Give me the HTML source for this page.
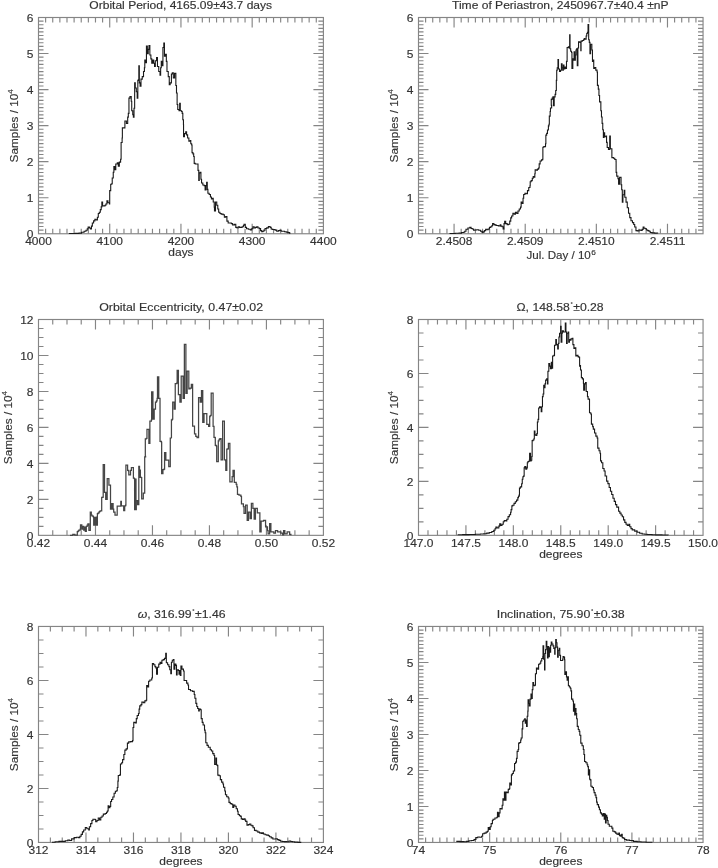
<!DOCTYPE html>
<html><head><meta charset="utf-8"><style>
html,body{margin:0;padding:0;background:#fff;}
svg{display:block;will-change:transform;}
text{font-family:"Liberation Sans",sans-serif;font-size:10.5px;fill:#333;stroke:#333;stroke-width:0.15px;}
</style></head><body>
<svg width="718" height="868" viewBox="0 0 718 868">
<rect width="718" height="868" fill="#fff"/>
<g><rect x="38.5" y="17.5" width="284.9" height="216.25" fill="none" stroke="#858585" stroke-width="1.15"/><path d="M45.62 233.75v-5M45.62 17.5v5M52.74 233.75v-5M52.74 17.5v5M59.87 233.75v-5M59.87 17.5v5M66.99 233.75v-5M66.99 17.5v5M74.11 233.75v-5M74.11 17.5v5M81.23 233.75v-5M81.23 17.5v5M88.36 233.75v-5M88.36 17.5v5M95.48 233.75v-5M95.48 17.5v5M102.6 233.75v-5M102.6 17.5v5M109.72 233.75v-10M109.72 17.5v10M116.85 233.75v-5M116.85 17.5v5M123.97 233.75v-5M123.97 17.5v5M131.09 233.75v-5M131.09 17.5v5M138.21 233.75v-5M138.21 17.5v5M145.34 233.75v-5M145.34 17.5v5M152.46 233.75v-5M152.46 17.5v5M159.58 233.75v-5M159.58 17.5v5M166.7 233.75v-5M166.7 17.5v5M173.83 233.75v-5M173.83 17.5v5M180.95 233.75v-10M180.95 17.5v10M188.07 233.75v-5M188.07 17.5v5M195.19 233.75v-5M195.19 17.5v5M202.32 233.75v-5M202.32 17.5v5M209.44 233.75v-5M209.44 17.5v5M216.56 233.75v-5M216.56 17.5v5M223.69 233.75v-5M223.69 17.5v5M230.81 233.75v-5M230.81 17.5v5M237.93 233.75v-5M237.93 17.5v5M245.05 233.75v-5M245.05 17.5v5M252.17 233.75v-10M252.17 17.5v10M259.3 233.75v-5M259.3 17.5v5M266.42 233.75v-5M266.42 17.5v5M273.54 233.75v-5M273.54 17.5v5M280.66 233.75v-5M280.66 17.5v5M287.79 233.75v-5M287.79 17.5v5M294.91 233.75v-5M294.91 17.5v5M302.03 233.75v-5M302.03 17.5v5M309.15 233.75v-5M309.15 17.5v5M316.28 233.75v-5M316.28 17.5v5M38.5 230.15h5M323.4 230.15h-5M38.5 226.54h5M323.4 226.54h-5M38.5 222.94h5M323.4 222.94h-5M38.5 219.33h5M323.4 219.33h-5M38.5 215.73h5M323.4 215.73h-5M38.5 212.12h5M323.4 212.12h-5M38.5 208.52h5M323.4 208.52h-5M38.5 204.92h5M323.4 204.92h-5M38.5 201.31h5M323.4 201.31h-5M38.5 197.71h10M323.4 197.71h-10M38.5 194.1h5M323.4 194.1h-5M38.5 190.5h5M323.4 190.5h-5M38.5 186.9h5M323.4 186.9h-5M38.5 183.29h5M323.4 183.29h-5M38.5 179.69h5M323.4 179.69h-5M38.5 176.08h5M323.4 176.08h-5M38.5 172.48h5M323.4 172.48h-5M38.5 168.88h5M323.4 168.88h-5M38.5 165.27h5M323.4 165.27h-5M38.5 161.67h10M323.4 161.67h-10M38.5 158.06h5M323.4 158.06h-5M38.5 154.46h5M323.4 154.46h-5M38.5 150.85h5M323.4 150.85h-5M38.5 147.25h5M323.4 147.25h-5M38.5 143.65h5M323.4 143.65h-5M38.5 140.04h5M323.4 140.04h-5M38.5 136.44h5M323.4 136.44h-5M38.5 132.83h5M323.4 132.83h-5M38.5 129.23h5M323.4 129.23h-5M38.5 125.62h10M323.4 125.62h-10M38.5 122.02h5M323.4 122.02h-5M38.5 118.42h5M323.4 118.42h-5M38.5 114.81h5M323.4 114.81h-5M38.5 111.21h5M323.4 111.21h-5M38.5 107.6h5M323.4 107.6h-5M38.5 104h5M323.4 104h-5M38.5 100.4h5M323.4 100.4h-5M38.5 96.79h5M323.4 96.79h-5M38.5 93.19h5M323.4 93.19h-5M38.5 89.58h10M323.4 89.58h-10M38.5 85.98h5M323.4 85.98h-5M38.5 82.38h5M323.4 82.38h-5M38.5 78.77h5M323.4 78.77h-5M38.5 75.17h5M323.4 75.17h-5M38.5 71.56h5M323.4 71.56h-5M38.5 67.96h5M323.4 67.96h-5M38.5 64.35h5M323.4 64.35h-5M38.5 60.75h5M323.4 60.75h-5M38.5 57.15h5M323.4 57.15h-5M38.5 53.54h10M323.4 53.54h-10M38.5 49.94h5M323.4 49.94h-5M38.5 46.33h5M323.4 46.33h-5M38.5 42.73h5M323.4 42.73h-5M38.5 39.12h5M323.4 39.12h-5M38.5 35.52h5M323.4 35.52h-5M38.5 31.92h5M323.4 31.92h-5M38.5 28.31h5M323.4 28.31h-5M38.5 24.71h5M323.4 24.71h-5M38.5 21.1h5M323.4 21.1h-5" fill="none" stroke="#858585" stroke-width="1.15"/><text transform="translate(38.5,245.25) scale(1.1400,1)" text-anchor="middle">4000</text><text transform="translate(109.72,245.25) scale(1.1400,1)" text-anchor="middle">4100</text><text transform="translate(180.95,245.25) scale(1.1400,1)" text-anchor="middle">4200</text><text transform="translate(252.17,245.25) scale(1.1400,1)" text-anchor="middle">4300</text><text transform="translate(323.4,245.25) scale(1.1400,1)" text-anchor="middle">4400</text><text transform="translate(33.5,237.95) scale(1.1400,1)" text-anchor="end">0</text><text transform="translate(33.5,201.91) scale(1.1400,1)" text-anchor="end">1</text><text transform="translate(33.5,165.87) scale(1.1400,1)" text-anchor="end">2</text><text transform="translate(33.5,129.82) scale(1.1400,1)" text-anchor="end">3</text><text transform="translate(33.5,93.78) scale(1.1400,1)" text-anchor="end">4</text><text transform="translate(33.5,57.74) scale(1.1400,1)" text-anchor="end">5</text><text transform="translate(33.5,21.7) scale(1.1400,1)" text-anchor="end">6</text><text transform="translate(180.7,8.7) scale(1.1491,1)" text-anchor="middle">Orbital Period, 4165.09±43.7 days</text><text transform="translate(180.95,256.15) scale(1.1400,1)" text-anchor="middle">days</text><text transform="translate(18.3,125.83) rotate(-90) scale(1.1229,1)" text-anchor="middle">Samples / 10<tspan font-size="7" dy="-5">4</tspan></text><path d="M68.87,233.51H75.21V233.38H79.02V233.12H81.55V232.24H84.09V231.22H85.99V230.21H87.26V228.69H88.14V227.17H89.41V228.05H90.43V228.94H91.44V226.15H92.33V222.98H93.6V220.83H94.86V219.18H96.13V220.07H97.4V217.28H98.29V213.47H99.3V212.21H100.31V209.67H101.2V206.88H101.84V202.06H102.6V205.87H103.74V205.87H105.01V205.23H105.89V203.97H106.91V200.8H107.92V202.7H109.44V203.97H109.7V190.66H110.71V184.32H111.72V183.68H112.23V177.98H113.25V172.27H113.88V166.57H114.77V169.74H115.78V164.03H117.3V162.76H118.32V166.31H119.33V162.13H120.6V159.22H121.11V142.48H122.12V138.04H122.37V127.9H124.89V120.96H126.41V123.49H127.68V117.15H128.31V113.35H128.95V98.14H129.96V96.61H131.23V101.31H131.73V110.81H132.75V114.62H133.38V117.15H134.02V108.28H134.65V82.92H135.28V87.99H136.3V91.8H137.19V98.14H137.82V80.39H138.45V79.75H138.83V65.81H139.34V82.92H140.1V86.09H140.99V79.12H142.26V76.58H143.52V71.51H144.41V67.71H144.79V60.1H145.68V62.64H146.44V46.16H147.33V53.76H148.22V49.33H148.98V45.52H149.86V55.03H150.88V58.84H151.76V63.27H152.65V60.1H153.67V63.27H154.55V66.44H155.31V60.74H156.58V57.57H157.47V66.44H158.74V71.51H160.01V75.32H160.64V67.71H161.27V61.37H162.16V65.81H162.92V47.43H163.81V42.99H164.44V56.3H165.46V54.4H166.34V61.37H166.98V71.51H168.25V76.58H169.26V84.82H170.15V82.92H171.41V74.05H172.3V72.78H173.32V77.85H174.58V73.41H175.22V73.41H175.85V85.46H176.49V93.06H177.12V104.47H177.75V109.55H179.02V110.81H179.66V103.21H180.29V110.81H181.56V111.45H182.19V113.35H182.82V119.69H183.46V124.76H183.55V136.78H184.44V133.61H185.7V131.7H186.59V134.87H187.61V138.04H188.87V141.21H190.14V140.58H190.78V143.75H191.66V145.02H192.04V152.62H192.93V153.89H193.69V156.43H194.2V163.4H195.21V164.03H197.11V164.03H198V170.37H198.76V180.51H199.27V172.91H200.28V172.27H200.92V179.25H201.55V183.05H202.82V184.95H204.09V185.58H205.1V190.02H205.99V185.58H206.62V182.41H207.26V189.39H207.89V193.19H209.16V194.46H210.43V196.99H211.44V198.9H212.33V198.26H213.22V202.06H214.23V207.14H214.48V210.94H215.5V202.06H216.76V205.23H217.78V209.04H218.67V212.21H219.93V213.47H221.2V214.11H223.1V214.74H224.37V217.28H225.64V216.64H226.91V221.08H228.17V222.98H230.08V222.98H231.34V223.62H232.61V224.88H234.51V224.25H235.78V227.42H237.05V228.05H238.32V226.79H239.58V227.42H240.85V227.42H242.12V226.79H243.39V225.52H244.02V224.25H245.29V227.42H246.56V228.69H248.46V229.32H250.36V229.96H251.63V228.69H252.9V226.79H254.16V228.05H255.43V227.42H256.7V226.79H257.97V228.05H259.47V228.44H260.58V230.67H261.7V231.78H262.81V231.23H263.93V230.11H265.04V228.44H266.71V227.88H268.38V226.55H270.06V227.33H271.17V229H272.28V229.55H273.96V229.55H275.07V230.11H276.74V231.23H278.41V230.67H279.53V230.33H281.2V231.23H282.87V231.23H284.54V231.78H286.21V232.12H287.88V232.67H289.55V233.23H290.11V233.45" fill="none" stroke="#1a1a1a" stroke-width="1.1" stroke-linejoin="miter"/></g>
<g><rect x="418.5" y="17.5" width="284.55" height="216.25" fill="none" stroke="#858585" stroke-width="1.15"/><path d="M425.61 233.75v-5M425.61 17.5v5M432.73 233.75v-5M432.73 17.5v5M439.84 233.75v-5M439.84 17.5v5M446.95 233.75v-5M446.95 17.5v5M454.07 233.75v-10M454.07 17.5v10M461.18 233.75v-5M461.18 17.5v5M468.3 233.75v-5M468.3 17.5v5M475.41 233.75v-5M475.41 17.5v5M482.52 233.75v-5M482.52 17.5v5M489.64 233.75v-5M489.64 17.5v5M496.75 233.75v-5M496.75 17.5v5M503.87 233.75v-5M503.87 17.5v5M510.98 233.75v-5M510.98 17.5v5M518.09 233.75v-5M518.09 17.5v5M525.21 233.75v-10M525.21 17.5v10M532.32 233.75v-5M532.32 17.5v5M539.43 233.75v-5M539.43 17.5v5M546.55 233.75v-5M546.55 17.5v5M553.66 233.75v-5M553.66 17.5v5M560.77 233.75v-5M560.77 17.5v5M567.89 233.75v-5M567.89 17.5v5M575 233.75v-5M575 17.5v5M582.12 233.75v-5M582.12 17.5v5M589.23 233.75v-5M589.23 17.5v5M596.34 233.75v-10M596.34 17.5v10M603.46 233.75v-5M603.46 17.5v5M610.57 233.75v-5M610.57 17.5v5M617.68 233.75v-5M617.68 17.5v5M624.8 233.75v-5M624.8 17.5v5M631.91 233.75v-5M631.91 17.5v5M639.03 233.75v-5M639.03 17.5v5M646.14 233.75v-5M646.14 17.5v5M653.25 233.75v-5M653.25 17.5v5M660.37 233.75v-5M660.37 17.5v5M667.48 233.75v-10M667.48 17.5v10M674.6 233.75v-5M674.6 17.5v5M681.71 233.75v-5M681.71 17.5v5M688.82 233.75v-5M688.82 17.5v5M695.94 233.75v-5M695.94 17.5v5M418.5 230.15h5M703.05 230.15h-5M418.5 226.54h5M703.05 226.54h-5M418.5 222.94h5M703.05 222.94h-5M418.5 219.33h5M703.05 219.33h-5M418.5 215.73h5M703.05 215.73h-5M418.5 212.12h5M703.05 212.12h-5M418.5 208.52h5M703.05 208.52h-5M418.5 204.92h5M703.05 204.92h-5M418.5 201.31h5M703.05 201.31h-5M418.5 197.71h10M703.05 197.71h-10M418.5 194.1h5M703.05 194.1h-5M418.5 190.5h5M703.05 190.5h-5M418.5 186.9h5M703.05 186.9h-5M418.5 183.29h5M703.05 183.29h-5M418.5 179.69h5M703.05 179.69h-5M418.5 176.08h5M703.05 176.08h-5M418.5 172.48h5M703.05 172.48h-5M418.5 168.88h5M703.05 168.88h-5M418.5 165.27h5M703.05 165.27h-5M418.5 161.67h10M703.05 161.67h-10M418.5 158.06h5M703.05 158.06h-5M418.5 154.46h5M703.05 154.46h-5M418.5 150.85h5M703.05 150.85h-5M418.5 147.25h5M703.05 147.25h-5M418.5 143.65h5M703.05 143.65h-5M418.5 140.04h5M703.05 140.04h-5M418.5 136.44h5M703.05 136.44h-5M418.5 132.83h5M703.05 132.83h-5M418.5 129.23h5M703.05 129.23h-5M418.5 125.62h10M703.05 125.62h-10M418.5 122.02h5M703.05 122.02h-5M418.5 118.42h5M703.05 118.42h-5M418.5 114.81h5M703.05 114.81h-5M418.5 111.21h5M703.05 111.21h-5M418.5 107.6h5M703.05 107.6h-5M418.5 104h5M703.05 104h-5M418.5 100.4h5M703.05 100.4h-5M418.5 96.79h5M703.05 96.79h-5M418.5 93.19h5M703.05 93.19h-5M418.5 89.58h10M703.05 89.58h-10M418.5 85.98h5M703.05 85.98h-5M418.5 82.38h5M703.05 82.38h-5M418.5 78.77h5M703.05 78.77h-5M418.5 75.17h5M703.05 75.17h-5M418.5 71.56h5M703.05 71.56h-5M418.5 67.96h5M703.05 67.96h-5M418.5 64.35h5M703.05 64.35h-5M418.5 60.75h5M703.05 60.75h-5M418.5 57.15h5M703.05 57.15h-5M418.5 53.54h10M703.05 53.54h-10M418.5 49.94h5M703.05 49.94h-5M418.5 46.33h5M703.05 46.33h-5M418.5 42.73h5M703.05 42.73h-5M418.5 39.12h5M703.05 39.12h-5M418.5 35.52h5M703.05 35.52h-5M418.5 31.92h5M703.05 31.92h-5M418.5 28.31h5M703.05 28.31h-5M418.5 24.71h5M703.05 24.71h-5M418.5 21.1h5M703.05 21.1h-5" fill="none" stroke="#858585" stroke-width="1.15"/><text transform="translate(454.07,245.25) scale(1.1400,1)" text-anchor="middle">2.4508</text><text transform="translate(525.21,245.25) scale(1.1400,1)" text-anchor="middle">2.4509</text><text transform="translate(596.34,245.25) scale(1.1400,1)" text-anchor="middle">2.4510</text><text transform="translate(667.48,245.25) scale(1.1400,1)" text-anchor="middle">2.4511</text><text transform="translate(413.5,237.95) scale(1.1400,1)" text-anchor="end">0</text><text transform="translate(413.5,201.91) scale(1.1400,1)" text-anchor="end">1</text><text transform="translate(413.5,165.87) scale(1.1400,1)" text-anchor="end">2</text><text transform="translate(413.5,129.82) scale(1.1400,1)" text-anchor="end">3</text><text transform="translate(413.5,93.78) scale(1.1400,1)" text-anchor="end">4</text><text transform="translate(413.5,57.74) scale(1.1400,1)" text-anchor="end">5</text><text transform="translate(413.5,21.7) scale(1.1400,1)" text-anchor="end">6</text><text transform="translate(560.27,8.7) scale(1.1503,1)" text-anchor="middle">Time of Periastron, 2450967.7±40.4 ±nP</text><text transform="translate(561.07,258.85) scale(1.1058,1)" text-anchor="middle">Jul. Day / 10<tspan font-size="7.5" dx="0.3" dy="-4.2">6</tspan></text><text transform="translate(398.3,125.83) rotate(-90) scale(1.1229,1)" text-anchor="middle">Samples / 10<tspan font-size="7" dy="-5">4</tspan></text><path d="M449.51,233.51H455.21V233.25H459.02V233.12H461.55V232.49H463.45V232.24H464.72V231.22H465.99V229.32H467.89V228.05H469.79V227.42H471.06V228.43H472.33V228.94H473.6V230.21H474.86V229.96H476.76V229.7H478.67V230.21H480.57V231.22H482.09V232.49H483.1V231.86H484.37V230.59H485.64V229.32H486.91V229.7H488.17V228.94H489.44V227.42H490.71V226.79H491.98V225.52H492.61V223.62H493.88V224.63H495.15V225.14H496.41V225.52H498.32V225.9H500.22V224.88H500.85V226.15H502.12V226.79H503.13V228.94H504.02V223.62H504.66V221.33H505.67V223.62H507.19V224.63H508.46V224.25H509.73V221.08H510.74V217.91H511.63V216.01H512.9V213.22H514.16V214.11H515.43V212.21H516.7V213.47H517.97V210.94H519.23V209.04H520.5V207.14H521.14V202.06H522.15V203.33H523.04V198.26H523.67V194.46H524.94V193.19H526.21V193.82H527.47V190.66H528.74V188.12H528.82V187.53H529.97V185.8H530.2V181.77H531.12V180.62H532.28V178.31H533.2V176.59H534V177.16H534.81V173.71H535.15V169.68H536.31V170.25H537.46V169.1H538.61V167.95H539.19V163.92H540.11V161.04H541.49V159.89H542.64V159.31H542.87V147.22H543.79V146.64H545.17V146.64H545.52V143.76H545.86V135.13H546.67V133.4H547.48V129.94H548.4V125.91H548.97V124.19H549.32V116.12H550.13V111.52H550.47V108.06H551.62V105.18H551.27V99.4H552.16V98.14H552.92V96.87H553.43V105.74H554.19V96.87H555.08V94.33H555.71V90.53H556.34V80.39H556.72V70.25H557.23V67.71H557.99V59.47H558.5V68.98H559.51V71.51H560.53V70.25H561.41V63.91H562.05V67.71H562.68V70.25H563.32V65.17H563.95V68.98H564.84V67.08H565.6V68.34H566.49V61.37H567.12V47.43H568.39V46.79H569.02V48.06H569.66V34.75H570.04V48.69H570.67V51.23H571.56V52.5H571.94V68.34H572.82V58.84H573.46V60.1H574.09V51.86H574.73V60.1H575.36V55.03H575.99V49.96H576.63V48.69H577.26V65.81H577.9V48.06H578.53V41.72H579.8V42.35H580.81V50.6H581.06V41.09H582.33V40.45H583.6V39.82H584.23V38.55H584.87V39.19H586.14V36.02H586.77V33.48H587.4V32.21H588.04V24.61H588.67V39.82H589.31V42.35H589.94V53.76H590.57V44.26H591.84V49.96H592.47V61.37H593.11V60.1H593.74V68.34H594.51V67.61H595.78V70.14H597.04V72.04H597.42V85.35H598.31V89.16H598.95V95.5H599.58V101.84H600.21V101.84H600.85V110.71H601.48V117.05H602.11V123.39H602.75V129.73H603.38V137.33H604.02V132.9H604.65V136.7H605.92V136.06H606.55V142.4H607.19V147.47H608.45V149.38H609.72V136.06H610.35V148.74H611.62V148.74H611.88V157.62H613.52V158.25H614.79V159.52H616.06V161.42H616.12V172.4H616.73V176.12H617.97V178.59H618.59V184.17H619.59V177.35H620.45V177.35H621.07V184.79H621.69V189.75H622.31V202.15H622.93V194.71H624.17V190.37H624.79V197.19H626.03V202.15H627.27V207.73H628.51V213.3H629.75V217.64H630.99V220.74H632.48V222.6H633.72V224.46H634.71V226.94H635.95V230.66H637.19V230.91H639.05V230.04H640.91V230.41H642.15V229.42H643.14V226.94H644.01V228.18H645.25V228.8H646.49V230.04H647.73V230.66H648.96V231.28H650.2V232.52H652.06V232.89H654.54V233.14H657.64V233.39" fill="none" stroke="#1a1a1a" stroke-width="1.1" stroke-linejoin="miter"/></g>
<g><rect x="38.5" y="319.5" width="284.9" height="215.85" fill="none" stroke="#858585" stroke-width="1.15"/><path d="M52.74 535.35v-5M52.74 319.5v5M66.99 535.35v-5M66.99 319.5v5M81.23 535.35v-5M81.23 319.5v5M95.48 535.35v-10M95.48 319.5v10M109.72 535.35v-5M109.72 319.5v5M123.97 535.35v-5M123.97 319.5v5M138.21 535.35v-5M138.21 319.5v5M152.46 535.35v-10M152.46 319.5v10M166.7 535.35v-5M166.7 319.5v5M180.95 535.35v-5M180.95 319.5v5M195.19 535.35v-5M195.19 319.5v5M209.44 535.35v-10M209.44 319.5v10M223.69 535.35v-5M223.69 319.5v5M237.93 535.35v-5M237.93 319.5v5M252.17 535.35v-5M252.17 319.5v5M266.42 535.35v-10M266.42 319.5v10M280.66 535.35v-5M280.66 319.5v5M294.91 535.35v-5M294.91 319.5v5M309.15 535.35v-5M309.15 319.5v5M38.5 526.36h5M323.4 526.36h-5M38.5 517.36h5M323.4 517.36h-5M38.5 508.37h5M323.4 508.37h-5M38.5 499.38h10M323.4 499.38h-10M38.5 490.38h5M323.4 490.38h-5M38.5 481.39h5M323.4 481.39h-5M38.5 472.39h5M323.4 472.39h-5M38.5 463.4h10M323.4 463.4h-10M38.5 454.41h5M323.4 454.41h-5M38.5 445.41h5M323.4 445.41h-5M38.5 436.42h5M323.4 436.42h-5M38.5 427.43h10M323.4 427.43h-10M38.5 418.43h5M323.4 418.43h-5M38.5 409.44h5M323.4 409.44h-5M38.5 400.44h5M323.4 400.44h-5M38.5 391.45h10M323.4 391.45h-10M38.5 382.46h5M323.4 382.46h-5M38.5 373.46h5M323.4 373.46h-5M38.5 364.47h5M323.4 364.47h-5M38.5 355.48h10M323.4 355.48h-10M38.5 346.48h5M323.4 346.48h-5M38.5 337.49h5M323.4 337.49h-5M38.5 328.49h5M323.4 328.49h-5" fill="none" stroke="#858585" stroke-width="1.15"/><text transform="translate(38.5,546.85) scale(1.1400,1)" text-anchor="middle">0.42</text><text transform="translate(95.48,546.85) scale(1.1400,1)" text-anchor="middle">0.44</text><text transform="translate(152.46,546.85) scale(1.1400,1)" text-anchor="middle">0.46</text><text transform="translate(209.44,546.85) scale(1.1400,1)" text-anchor="middle">0.48</text><text transform="translate(266.42,546.85) scale(1.1400,1)" text-anchor="middle">0.50</text><text transform="translate(323.4,546.85) scale(1.1400,1)" text-anchor="middle">0.52</text><text transform="translate(33.5,539.55) scale(1.1400,1)" text-anchor="end">0</text><text transform="translate(33.5,503.57) scale(1.1400,1)" text-anchor="end">2</text><text transform="translate(33.5,467.6) scale(1.1400,1)" text-anchor="end">4</text><text transform="translate(33.5,431.62) scale(1.1400,1)" text-anchor="end">6</text><text transform="translate(33.5,395.65) scale(1.1400,1)" text-anchor="end">8</text><text transform="translate(33.5,359.68) scale(1.1400,1)" text-anchor="end">10</text><text transform="translate(33.5,323.7) scale(1.1400,1)" text-anchor="end">12</text><text transform="translate(181.15,310.7) scale(1.1776,1)" text-anchor="middle">Orbital Eccentricity, 0.47±0.02</text><text transform="translate(12.4,427.62) rotate(-90) scale(1.1229,1)" text-anchor="middle">Samples / 10<tspan font-size="7" dy="-5">4</tspan></text><path d="M70,535.3H72.7V535.3H72.8V534.3H74.7V534.3H74.8V535.1H76.9V535.1H77.3V531.6H78.2V530.9H78.9V530H80.2V529H80.5V524.8H81.4V524.8H81.8V529H82.4V526.4H83.4V526.4H83.7V530H84.3V527.1H85V527.1H85.3V531.3H86V531.3H86.3V526.4H87.2V525.1H87.9V523.8H88.5V523.8H88.9V530.3H89.8V530.3H90.3V512.2H91.1V512.2H91.3V515.1H92.1V516.1H93.4V517.1H93.7V525.1H94.3V525.1H94.7V517.4H95.5V517.4H95.6V525.1H96.2V525.1H96.3V517.1H96.9V517.1H97V525.1H97.3V525.1H97.4V513.5H98.2V512.9H99.2V511.6H100.1V510.9H101.4V510.9H101.7V497.4H102.9V497.1H103.2V464.5H104.3V464.5H104.5V492.3H105.6V492.3H105.7V499.3H106.2V499.3H106.3V492.3H106.7V492.3H106.8V499.3H107.1V499.3H107.2V478.7H108.9V478.7H108.9V485.1H110.5V485.1H110.5V509H111.2V509H111.3V503.5H111.9V503.5H112V509H112.5V509H112.6V503.5H113V503.5H113.1V509H113.7V512.2H115V515.1H117.2V513.5H117.2V506.1H120.5V506.1H120.8V501.3H121.4V501.3H121.4V505.8H123.4V505.8H123.7V510.6H124.3V510.6H124.7V505.8H125.6V505.1H125.9V465.1H127.2V465.1H127.6V470.3H128.5V470.9H128.8V474.8H130.1V474.8H130.5V470.3H131.4V467.7H133V467.7H133.4V478H134.3V478.7H134.6V509.7H135.3V509.7H135.4V479H135.9V479H136V509.7H136.3V509.7H136.3V500.6H137.6V500.6H137.6V504.5H138.6V504.5H138.8V466.4H139.4V466.4H139.5V477.4H139.9V477.4H140V470H140.3V470H140.4V477.4H141.4V477.7H141.7V498.9H143V498.9H143.3V493.2H144.2V493.2H144.7V456.8H145.6V456.4H145.32V438.88H146.34V438.25H146.97V429.38H148.24V429.38H148.87V443.32H149.51V443.32H149.89V421.14H151.41V419.87H151.66V391.98H152.68V391.98H152.93V419.23H153.95V419.23H154.2V409.09H155.21V409.09H155.47V402.12H156.48V400.85H157.11V398.32H157.49V376.76H158.38V376.76H158.76V398.32H159.65V398.32H160.03V441.42H160.92V441.42H161.41V442.48H161.66V473.54H162.68V473.54H162.93V469.74H163.95V469.1H164.58V452.62H165.47V452.62H165.85V460.23H168.38V460.23H168.76V466.57H170.03V466.57H170.28V438.04H171.55V438.04H171.44V419.87H172.33V419.23H172.71V402.12H173.6V402.12H174.23V409.09H174.86V409.09H175.24V383.74H176.76V383.1H177.15V370.43H178.03V370.43H178.41V394.51H179.3V394.51H179.93V402.12H180.82V402.12H181.2V376.13H182.47V376.13H183.1V398.32H183.74V398.32H184.37V344.44H185.64V344.44H185.89V393.25H186.65V393.25H187.16V371.06H188.43V371.06H188.81V388.81H190.08V388.17H191.34V384.37H192.23V384.37H192.61V426.21H193.88V426.21H194.51V433.81H195.78V436.35H197.05V437.62H198.32V437.62H198.57V397.68H199.58V397.68H200.22V402.12H201.11V402.12H201.49V390.71H202.37V390.71H202.75V422.4H203.64V422.4H204.02V413.53H205.92V413.53H206.8V424.4H208.2V424.4H208.6V426.4H209.4V426.4H209.7V416.7H210.2V415.5H211V415.1H211.2V393.2H212.9V393.2H213.1V426.4H213.9V426.4H214V437.3H215.1V437.7H215.3V445.3H216.3V446.1H216.7V461.5H217.9V461.5H218.3V440.9H219.1V439.3H219.9V438.5H220.7V438.5H221.1V459.8H222.3V459.8H222.6V421.1H224.2V421.1H224.4V459.8H225.2V459.8H225.6V460.6H225.8V470.3H226.6V470.3H226.8V449H228V448.5H228.4V443.3H229.6V443.3H229.87V481.78H231.14V481.78H232.15V476.71H233.04V470.37H233.92V470.37H234.31V482.41H236.21V484.32H236.84V486.85H237.47V494.46H239V495.09H240.85V496.36H241.48V503.97H243.38V506.5H244.02V513.47H245.03V513.47H245.54V505.23H246.81V505.23H247.19V520.45H248.07V520.45H248.45V512.21H249.72V512.21H250.1V518.55H250.99V518.55H251.37V503.33H252.26V503.33H252.89V508.4H253.9V508.4H254.16V519.18H255.17V519.18H255.43V508.4H256.69V508.4H257.33V512.84H259.23V512.84H259.86V531.86H260.75V531.86H261.13V521.08H263.03V521.08H263.67V520.45H264.93V520.45H265.57V526.79H267.47V530.59H268.1V533.76H269.12V533.76H269.62V523.62H270.64V523.62H270.89V531.86H272.54V531.86H273.81V533.12H275.08V533.12H275.46V530.59H276.98V530.59H277.61V531.86H279.51V531.86H280.78V533.12H282.68V534.77H283.57V530.59H284.58V530.59H284.84V533.76H286.49V533.76H287.12V531.86H289.02V531.86H289.66V534.39H290.92V535.28" fill="none" stroke="#454545" stroke-width="1.25" stroke-linejoin="miter"/></g>
<g><rect x="418.5" y="319.5" width="284.55" height="215.85" fill="none" stroke="#858585" stroke-width="1.15"/><path d="M427.99 535.35v-5M427.99 319.5v5M437.47 535.35v-5M437.47 319.5v5M446.95 535.35v-5M446.95 319.5v5M456.44 535.35v-5M456.44 319.5v5M465.93 535.35v-10M465.93 319.5v10M475.41 535.35v-5M475.41 319.5v5M484.89 535.35v-5M484.89 319.5v5M494.38 535.35v-5M494.38 319.5v5M503.87 535.35v-5M503.87 319.5v5M513.35 535.35v-10M513.35 319.5v10M522.84 535.35v-5M522.84 319.5v5M532.32 535.35v-5M532.32 319.5v5M541.8 535.35v-5M541.8 319.5v5M551.29 535.35v-5M551.29 319.5v5M560.77 535.35v-10M560.77 319.5v10M570.26 535.35v-5M570.26 319.5v5M579.75 535.35v-5M579.75 319.5v5M589.23 535.35v-5M589.23 319.5v5M598.71 535.35v-5M598.71 319.5v5M608.2 535.35v-10M608.2 319.5v10M617.68 535.35v-5M617.68 319.5v5M627.17 535.35v-5M627.17 319.5v5M636.65 535.35v-5M636.65 319.5v5M646.14 535.35v-5M646.14 319.5v5M655.62 535.35v-10M655.62 319.5v10M665.11 535.35v-5M665.11 319.5v5M674.6 535.35v-5M674.6 319.5v5M684.08 535.35v-5M684.08 319.5v5M693.56 535.35v-5M693.56 319.5v5M418.5 521.86h5M703.05 521.86h-5M418.5 508.37h5M703.05 508.37h-5M418.5 494.88h5M703.05 494.88h-5M418.5 481.39h10M703.05 481.39h-10M418.5 467.9h5M703.05 467.9h-5M418.5 454.41h5M703.05 454.41h-5M418.5 440.92h5M703.05 440.92h-5M418.5 427.43h10M703.05 427.43h-10M418.5 413.93h5M703.05 413.93h-5M418.5 400.44h5M703.05 400.44h-5M418.5 386.95h5M703.05 386.95h-5M418.5 373.46h10M703.05 373.46h-10M418.5 359.97h5M703.05 359.97h-5M418.5 346.48h5M703.05 346.48h-5M418.5 332.99h5M703.05 332.99h-5" fill="none" stroke="#858585" stroke-width="1.15"/><text transform="translate(418.5,546.85) scale(1.1400,1)" text-anchor="middle">147.0</text><text transform="translate(465.93,546.85) scale(1.1400,1)" text-anchor="middle">147.5</text><text transform="translate(513.35,546.85) scale(1.1400,1)" text-anchor="middle">148.0</text><text transform="translate(560.77,546.85) scale(1.1400,1)" text-anchor="middle">148.5</text><text transform="translate(608.2,546.85) scale(1.1400,1)" text-anchor="middle">149.0</text><text transform="translate(655.62,546.85) scale(1.1400,1)" text-anchor="middle">149.5</text><text transform="translate(703.05,546.85) scale(1.1400,1)" text-anchor="middle">150.0</text><text transform="translate(413.5,539.55) scale(1.1400,1)" text-anchor="end">0</text><text transform="translate(413.5,485.59) scale(1.1400,1)" text-anchor="end">2</text><text transform="translate(413.5,431.62) scale(1.1400,1)" text-anchor="end">4</text><text transform="translate(413.5,377.66) scale(1.1400,1)" text-anchor="end">6</text><text transform="translate(413.5,323.7) scale(1.1400,1)" text-anchor="end">8</text><text transform="translate(560.07,310.7) scale(1.1639,1)" text-anchor="middle">Ω, 148.58<tspan font-size="5" dx="0.6" dy="-4.6">°</tspan><tspan dx="0.4" dy="4.6">±0.28</tspan></text><text transform="translate(560.77,557.75) scale(1.1400,1)" text-anchor="middle">degrees</text><text transform="translate(398.3,427.62) rotate(-90) scale(1.1229,1)" text-anchor="middle">Samples / 10<tspan font-size="7" dy="-5">4</tspan></text><path d="M457.61,534.77H462.68V534.65H469.02V534.52H475.35V534.27H480.43V534.01H483.6V533.76H486.76V533.12H489.3V532.49H491.84V531.48H493.74V530.21H495.01V528.69H495.89V527.17H497.16V528.05H498.81V526.15H499.7V523.87H500.71V525.52H501.98V524.25H503.25V521.72H504.26V520.45H505.78V520.83H506.8V519.18H508.06V516.64H509.33V514.74H510.6V512.21H511.11V509.67H511.87V505.87H512.75V505.23H514.02V503.33H515.29V501.81H516.56V500.16H517.82V497.63H518.46V496.36H519.09V495.09H519.47V488.12H520.36V486.85H521.63V483.68H522.26V479.25H522.9V476.71H523.53V476.08H524.16V467.84H524.8V466.57H525.81V469.1H526.7V467.84H527.33V462.76H527.97V461.5H529.23V460.23H529.61V453.26H530.5V460.86H531.14V460.23H531.77V456.43H532.15V440.58H533.04V439.95H533.92V438.68H534.31V431.07H534.94V434.87H535.95V435.51H536.84V433.61H537.4V421.96H538.03V419.42H538.67V408.01H539.55V406.74H540.57V407.38H541.2V411.81H541.84V406.74H542.47V396.6H543.1V394.06H543.74V385.19H544.37V387.73H545.01V383.92H545.64V380.12H546.65V378.85H547.54V383.92H547.92V371.25H548.81V363.64H549.7V366.17H550.46V368.71H551.34V362.37H551.98V368.08H552.61V356.03H553.88V355.4H554.51V345.26H555.78V339.55H556.41V344.62H557.68V349.06H558.32V343.35H558.95V337.02H559.58V333.21H560.6V326.24H561.11V342.09H561.87V333.21H562.37V330.68H563.39V331.95H564.66V331.95H565.29V323.07H565.92V331.95H566.56V343.35H567.19V333.21H568.2V331.95H568.71V342.09H569.47V339.55H570.36V340.19H570.99V338.92H572.26V338.28H572.9V344.62H573.91V348.43H574.8V347.79H575.81V356.03H576.7V355.4H577.97V356.67H578.85V357.3H579.61V366.17H580.12V365.54H580.5V369.98H581.39V377.58H582.4V378.85H583.42V383.29H583.67V390.26H584.69V383.92H585.57V382.66H586.21V391.53H587.47V396.6H588.11V399.14H589.51V412.68H590.78V413.95H591.41V424.09H592.68V426.62H593.31V429.16H594.58V432.96H595.85V436.13H597.11V438.03H597.75V448.17H599.02V450.71H600.03V453.25H600.54V460.85H601.55V462.75H602.82V468.46H604.09V470.99H605.1V476.06H606.62V481.14H607.89V483.67H609.16V487.47H610.43V491.28H611.69V494.45H612.96V498.25H614.23V501.42H615.5V504.59H616.76V507.12H618.59V511.25H619.83V513.11H621.07V514.96H622.31V516.82H623.55V519.92H624.79V522.4H626.03V524.26H627.27V525.5H628.76V524.26H629.75V526.74H630.99V528.6H632.23V529.84H634.71V531.08H637.19V532.32H639.67V533.31H642.15V533.93H644.63V534.3H647.11V534.55H652.06V534.8H655.78V534.92H661.98V535.05H668.18V535.17" fill="none" stroke="#1a1a1a" stroke-width="1.1" stroke-linejoin="miter"/></g>
<g><rect x="38.5" y="626.45" width="284.9" height="216" fill="none" stroke="#858585" stroke-width="1.15"/><path d="M50.37 842.45v-5M50.37 626.45v5M62.24 842.45v-5M62.24 626.45v5M74.11 842.45v-5M74.11 626.45v5M85.98 842.45v-10M85.98 626.45v10M97.85 842.45v-5M97.85 626.45v5M109.72 842.45v-5M109.72 626.45v5M121.6 842.45v-5M121.6 626.45v5M133.47 842.45v-10M133.47 626.45v10M145.34 842.45v-5M145.34 626.45v5M157.21 842.45v-5M157.21 626.45v5M169.08 842.45v-5M169.08 626.45v5M180.95 842.45v-10M180.95 626.45v10M192.82 842.45v-5M192.82 626.45v5M204.69 842.45v-5M204.69 626.45v5M216.56 842.45v-5M216.56 626.45v5M228.43 842.45v-10M228.43 626.45v10M240.3 842.45v-5M240.3 626.45v5M252.17 842.45v-5M252.17 626.45v5M264.05 842.45v-5M264.05 626.45v5M275.92 842.45v-10M275.92 626.45v10M287.79 842.45v-5M287.79 626.45v5M299.66 842.45v-5M299.66 626.45v5M311.53 842.45v-5M311.53 626.45v5M38.5 828.95h5M323.4 828.95h-5M38.5 815.45h5M323.4 815.45h-5M38.5 801.95h5M323.4 801.95h-5M38.5 788.45h10M323.4 788.45h-10M38.5 774.95h5M323.4 774.95h-5M38.5 761.45h5M323.4 761.45h-5M38.5 747.95h5M323.4 747.95h-5M38.5 734.45h10M323.4 734.45h-10M38.5 720.95h5M323.4 720.95h-5M38.5 707.45h5M323.4 707.45h-5M38.5 693.95h5M323.4 693.95h-5M38.5 680.45h10M323.4 680.45h-10M38.5 666.95h5M323.4 666.95h-5M38.5 653.45h5M323.4 653.45h-5M38.5 639.95h5M323.4 639.95h-5" fill="none" stroke="#858585" stroke-width="1.15"/><text transform="translate(38.5,853.95) scale(1.1400,1)" text-anchor="middle">312</text><text transform="translate(85.98,853.95) scale(1.1400,1)" text-anchor="middle">314</text><text transform="translate(133.47,853.95) scale(1.1400,1)" text-anchor="middle">316</text><text transform="translate(180.95,853.95) scale(1.1400,1)" text-anchor="middle">318</text><text transform="translate(228.43,853.95) scale(1.1400,1)" text-anchor="middle">320</text><text transform="translate(275.92,853.95) scale(1.1400,1)" text-anchor="middle">322</text><text transform="translate(323.4,853.95) scale(1.1400,1)" text-anchor="middle">324</text><text transform="translate(33.5,846.65) scale(1.1400,1)" text-anchor="end">0</text><text transform="translate(33.5,792.65) scale(1.1400,1)" text-anchor="end">2</text><text transform="translate(33.5,738.65) scale(1.1400,1)" text-anchor="end">4</text><text transform="translate(33.5,684.65) scale(1.1400,1)" text-anchor="end">6</text><text transform="translate(33.5,630.65) scale(1.1400,1)" text-anchor="end">8</text><text transform="translate(181.65,617.65) scale(1.1674,1)" text-anchor="middle"><tspan font-style="italic">ω</tspan>, 316.99<tspan font-size="5" dx="0.6" dy="-4.6">°</tspan><tspan dx="0.4" dy="4.6">±1.46</tspan></text><text transform="translate(180.95,864.85) scale(1.1400,1)" text-anchor="middle">degrees</text><text transform="translate(18.3,734.65) rotate(-90) scale(1.1229,1)" text-anchor="middle">Samples / 10<tspan font-size="7" dy="-5">4</tspan></text><path d="M51.97,842.28H55.14V841.77H58.95V841.39H62.75V841.39H65.28V840.76H67.82V840.12H69.72V840.51H71.62V838.86H74.16V837.59H76.69V837.21H78.6V837.59H79.86V836.32H81.13V834.42H82.4V831.88H83.67V829.98H85.31V827.45H86.84V828.72H88.74V829.98H89.37V826.81H90.64V823.64H91.91V820.47H92.92V819.21H95.08V819.46H95.71V821.74H96.98V820.47H98.25V817.94H99.51V819.84H100.78V817.31H102.05V816.04H103.32V814.14H105.22V813.5H106.49V812.23H107.37V810.97H108.13V805.9H109.02V807.8H109.91V806.53H110.67V801.46H111.56V799.56H112.82V797.02H114.09V793.22H115.36V791.32H116.63V790.68H117.26V787.51H117.9V781.17H118.28V775.47H119.8V774.84H120.43V764.06H121.7V762.79H122.59V759.62H123.85V754.55H124.87V750.11H126.14V748.85H127.4V743.14H128.67V741.87H130.57V741.62H132.47V740.61H133V727.47H133.76V722.4H135.28V723.04H136.3V718.6H137.19V715.43H138.45V713.53H139.09V709.09H139.72V705.92H140.99V704.66H141.88V702.12H143.52V702.75H144.79V700.85H146.06V700.22H146.69V685.64H147.71V686.91H148.6V681.2H149.86V679.93H151.76V678.03H152.4V663.45H153.67V664.72H154.93V666.62H155.82V667.89H156.58V674.23H157.47V667.26H158.74V664.09H160.01V662.19H160.89V663.45H161.91V660.28H163.17V659.65H164.44V658.38H165.71V653.31H166.34V662.82H167.61V664.72H168.88V666.62H169.77V669.79H170.78V673.6H171.41V662.19H172.3V660.28H173.32V659.65H173.95V669.16H174.84V664.09H175.85V665.35H176.49V674.86H177.12V669.79H178.39V670.43H179.02V674.23H179.91V670.43H180.29V675.5H180.92V665.99H181.94V669.16H183.46V671.06H184.09V680.57H185.36V680.57H186.63V683.1H187.9V685.01H188.53V689.44H190.43V690.71H192.59V691.34H194.23V694.51H194.87V698.32H195.88V703.39H196.77V706.56H197.66V708.46H198.67V710.99H199.31V709.09H200.57V709.73H201.21V718.6H202.22V722.4H203.11V724.94H204.51V730.14H205.14V732.68H205.78V742.82H207.04V745.35H208.31V747.26H210.21V749.79H211.48V751.06H212.75V753.6H214.02V755.5H214.65V764.37H215.92V758.03H216.55V765.01H217.57V765.64H217.82V775.15H219.09V775.78H220.35V779.58H221.62V782.12H222.89V784.02H223.52V787.19H224.79V790.99H225.43V794.8H226.69V796.7H228.22V797.97H228.98V802.4H230.24V803.67H231.76V804.31H232.78V807.47H233.67V804.94H234.93V806.21H236.2V808.74H237.47V811.28H238.1V814.45H239.37V815.72H240.64V816.35H241.27V818.88H242.54V819.52H243.81V818.88H245.08V820.15H245.71V821.42H246.98V825.22H248.25V824.59H249.51V823.96H250.78V825.22H252.05V825.86H253.06V827.76H254.48V830.33H256.16V831H257.83V832.12H259.5V832.9H261.17V833.45H262.28V832.9H263.4V834.01H265.07V834.79H266.74V835.13H268.41V835.68H269.53V836.8H271.2V837.91H272.87V839.03H274.54V839.03H275.65V838.8H277.33V839.58H279V840.36H280.67V841.25H282.34V841.48H284.57V841.59H286.8V841.81H289.03V841.03H290.7V841.48H292.37V841.81H294.6V842.14H297.94V842.37H301.28V842.37" fill="none" stroke="#1a1a1a" stroke-width="1.1" stroke-linejoin="miter"/></g>
<g><rect x="418.5" y="626.45" width="284.55" height="216" fill="none" stroke="#858585" stroke-width="1.15"/><path d="M425.61 842.45v-5M425.61 626.45v5M432.73 842.45v-5M432.73 626.45v5M439.84 842.45v-5M439.84 626.45v5M446.95 842.45v-5M446.95 626.45v5M454.07 842.45v-5M454.07 626.45v5M461.18 842.45v-5M461.18 626.45v5M468.3 842.45v-5M468.3 626.45v5M475.41 842.45v-5M475.41 626.45v5M482.52 842.45v-5M482.52 626.45v5M489.64 842.45v-10M489.64 626.45v10M496.75 842.45v-5M496.75 626.45v5M503.87 842.45v-5M503.87 626.45v5M510.98 842.45v-5M510.98 626.45v5M518.09 842.45v-5M518.09 626.45v5M525.21 842.45v-5M525.21 626.45v5M532.32 842.45v-5M532.32 626.45v5M539.43 842.45v-5M539.43 626.45v5M546.55 842.45v-5M546.55 626.45v5M553.66 842.45v-5M553.66 626.45v5M560.77 842.45v-10M560.77 626.45v10M567.89 842.45v-5M567.89 626.45v5M575 842.45v-5M575 626.45v5M582.12 842.45v-5M582.12 626.45v5M589.23 842.45v-5M589.23 626.45v5M596.34 842.45v-5M596.34 626.45v5M603.46 842.45v-5M603.46 626.45v5M610.57 842.45v-5M610.57 626.45v5M617.68 842.45v-5M617.68 626.45v5M624.8 842.45v-5M624.8 626.45v5M631.91 842.45v-10M631.91 626.45v10M639.03 842.45v-5M639.03 626.45v5M646.14 842.45v-5M646.14 626.45v5M653.25 842.45v-5M653.25 626.45v5M660.37 842.45v-5M660.37 626.45v5M667.48 842.45v-5M667.48 626.45v5M674.6 842.45v-5M674.6 626.45v5M681.71 842.45v-5M681.71 626.45v5M688.82 842.45v-5M688.82 626.45v5M695.94 842.45v-5M695.94 626.45v5M418.5 838.85h5M703.05 838.85h-5M418.5 835.25h5M703.05 835.25h-5M418.5 831.65h5M703.05 831.65h-5M418.5 828.05h5M703.05 828.05h-5M418.5 824.45h5M703.05 824.45h-5M418.5 820.85h5M703.05 820.85h-5M418.5 817.25h5M703.05 817.25h-5M418.5 813.65h5M703.05 813.65h-5M418.5 810.05h5M703.05 810.05h-5M418.5 806.45h10M703.05 806.45h-10M418.5 802.85h5M703.05 802.85h-5M418.5 799.25h5M703.05 799.25h-5M418.5 795.65h5M703.05 795.65h-5M418.5 792.05h5M703.05 792.05h-5M418.5 788.45h5M703.05 788.45h-5M418.5 784.85h5M703.05 784.85h-5M418.5 781.25h5M703.05 781.25h-5M418.5 777.65h5M703.05 777.65h-5M418.5 774.05h5M703.05 774.05h-5M418.5 770.45h10M703.05 770.45h-10M418.5 766.85h5M703.05 766.85h-5M418.5 763.25h5M703.05 763.25h-5M418.5 759.65h5M703.05 759.65h-5M418.5 756.05h5M703.05 756.05h-5M418.5 752.45h5M703.05 752.45h-5M418.5 748.85h5M703.05 748.85h-5M418.5 745.25h5M703.05 745.25h-5M418.5 741.65h5M703.05 741.65h-5M418.5 738.05h5M703.05 738.05h-5M418.5 734.45h10M703.05 734.45h-10M418.5 730.85h5M703.05 730.85h-5M418.5 727.25h5M703.05 727.25h-5M418.5 723.65h5M703.05 723.65h-5M418.5 720.05h5M703.05 720.05h-5M418.5 716.45h5M703.05 716.45h-5M418.5 712.85h5M703.05 712.85h-5M418.5 709.25h5M703.05 709.25h-5M418.5 705.65h5M703.05 705.65h-5M418.5 702.05h5M703.05 702.05h-5M418.5 698.45h10M703.05 698.45h-10M418.5 694.85h5M703.05 694.85h-5M418.5 691.25h5M703.05 691.25h-5M418.5 687.65h5M703.05 687.65h-5M418.5 684.05h5M703.05 684.05h-5M418.5 680.45h5M703.05 680.45h-5M418.5 676.85h5M703.05 676.85h-5M418.5 673.25h5M703.05 673.25h-5M418.5 669.65h5M703.05 669.65h-5M418.5 666.05h5M703.05 666.05h-5M418.5 662.45h10M703.05 662.45h-10M418.5 658.85h5M703.05 658.85h-5M418.5 655.25h5M703.05 655.25h-5M418.5 651.65h5M703.05 651.65h-5M418.5 648.05h5M703.05 648.05h-5M418.5 644.45h5M703.05 644.45h-5M418.5 640.85h5M703.05 640.85h-5M418.5 637.25h5M703.05 637.25h-5M418.5 633.65h5M703.05 633.65h-5M418.5 630.05h5M703.05 630.05h-5" fill="none" stroke="#858585" stroke-width="1.15"/><text transform="translate(418.5,853.95) scale(1.1400,1)" text-anchor="middle">74</text><text transform="translate(489.64,853.95) scale(1.1400,1)" text-anchor="middle">75</text><text transform="translate(560.77,853.95) scale(1.1400,1)" text-anchor="middle">76</text><text transform="translate(631.91,853.95) scale(1.1400,1)" text-anchor="middle">77</text><text transform="translate(703.05,853.95) scale(1.1400,1)" text-anchor="middle">78</text><text transform="translate(413.5,846.65) scale(1.1400,1)" text-anchor="end">0</text><text transform="translate(413.5,810.65) scale(1.1400,1)" text-anchor="end">1</text><text transform="translate(413.5,774.65) scale(1.1400,1)" text-anchor="end">2</text><text transform="translate(413.5,738.65) scale(1.1400,1)" text-anchor="end">3</text><text transform="translate(413.5,702.65) scale(1.1400,1)" text-anchor="end">4</text><text transform="translate(413.5,666.65) scale(1.1400,1)" text-anchor="end">5</text><text transform="translate(413.5,630.65) scale(1.1400,1)" text-anchor="end">6</text><text transform="translate(560.77,617.65) scale(1.1799,1)" text-anchor="middle">Inclination, 75.90<tspan font-size="5" dx="0.6" dy="-4.6">°</tspan><tspan dx="0.4" dy="4.6">±0.38</tspan></text><text transform="translate(560.77,864.85) scale(1.1400,1)" text-anchor="middle">degrees</text><text transform="translate(398.3,734.65) rotate(-90) scale(1.1229,1)" text-anchor="middle">Samples / 10<tspan font-size="7" dy="-5">4</tspan></text><path d="M456.27,841.39H460.07V841.65H463.87V841.77H466.41V841.39H468.95V840.76H471.48V840.51H474.02V839.49H475.92V837.59H477.82V836.96H479.72V837.21H481.62V836.32H482.64V833.79H484.16V833.15H486.06V832.14H487.33V831.25H488.22V827.45H489.23V829.35H490.24V826.81H491.13V823.64H492.4V820.47H493.03V819.21H494.93V817.94H496.84V817.31H497.47V812.23H498.1V816.67H499.12V812.87H500.01V808.43H501.27V809.06H502.16V805.26H502.92V798.92H503.81V800.19H504.44V791.95H505.46V800.19H505.96V791.95H506.98V792.58H508.25V789.41H509.26V788.78H509.77V783.08H510.78V784.98H511.41V774.84H512.3V773.57H513.32V771.03H514.58V763.43H515.6V762.16H516.49V758.35H517.12V751.38H518.13V749.48H518.64V743.14H519.66V742.51H520.67V739.97H521.18V738.07H522.11V728.88H522.75V721.28H523.76V720.01H524.65V718.74H525.28V723.18H525.92V720.01H526.55V726.35H527.19V716.21H527.82V711.14H528.07V699.73H528.83V703.53H529.34V706.06H530.1V699.09H530.99V694.02H531.62V698.46H532.26V689.58H532.89V682.61H533.52V685.78H534.79V685.15H535.43V673.74H536.44V668.03H537.71V669.3H538.6V664.23H539.86V663.22H540.75V661.06H541.76V658.52H542.78V656.62H543.03V645.85H543.67V659.16H544.55V669.93H544.93V653.45H545.57V649.65H546.2V641.41H546.84V646.48H547.47V657.89H548.1V646.48H548.74V656.62H549.37V647.75H550.01V652.19H550.64V645.21H551.27V642.04H551.91V643.95H552.92V645.85H553.81V648.38H554.7V654.09H555.08V647.75H555.71V639.51H556.34V642.68H556.98V647.11H557.61V657.26H558.25V650.28H559.26V648.38H559.77V655.35H560.53V660.43H561.41V660.43H562.68V659.16H563.06V656.62H563.95V657.26H564.58V659.79H564.84V674.37H565.85V671.84H566.49V676.91H567.12V680.08H567.75V676.91H568.39V685.78H569.4V687.05H570.29V688.32H570.92V690.85H571.56V699.09H572.82V700.99H573.46V711.14H574.09V704.16H574.73V714.94H575.36V708.6H575.99V713.67H576.63V718.74H577.26V726.35H578.28V729.52H579.16V731.42H579.8V735.22H580.78V743.14H582.04V745.68H583.31V749.48H583.95V754.55H584.58V761.52H585.85V762.79H587.11V764.69H587.75V766.6H588.38V774.84H589.02V769.76H589.65V779.27H590.28V779.91H590.92V786.25H592.19V787.51H593.45V790.05H594.09V792.58H595.1V795.12H595.99V797.66H596.62V802.09H597.26V804.63H598.52V807.16H599.41V809.7H600.43V812.87H601.44V814.14H602.33V816.04H603.22V813.5H604.23V819.21H604.86V814.14H605.5V823.01H606.13V815.4H606.76V817.31H607.4V820.47H608.03V824.28H609.3V826.18H610.57V826.18H611.84V828.08H612.85V831.25H614.37V831.88H615.64V833.15H616.91V834.17H618.17V834.42H618.81V833.15H619.44V835.69H620.08V835.05H620.71V836.32H621.72V834.42H622.23V837.59H623.25V838.22H624.51V839.49H626.41V840.12H629.58V840.51H633.39V841.39H637.19V841.77H640.99V842.03H646.06V842.28H652.4V842.28" fill="none" stroke="#1a1a1a" stroke-width="1.1" stroke-linejoin="miter"/></g>
</svg></body></html>
